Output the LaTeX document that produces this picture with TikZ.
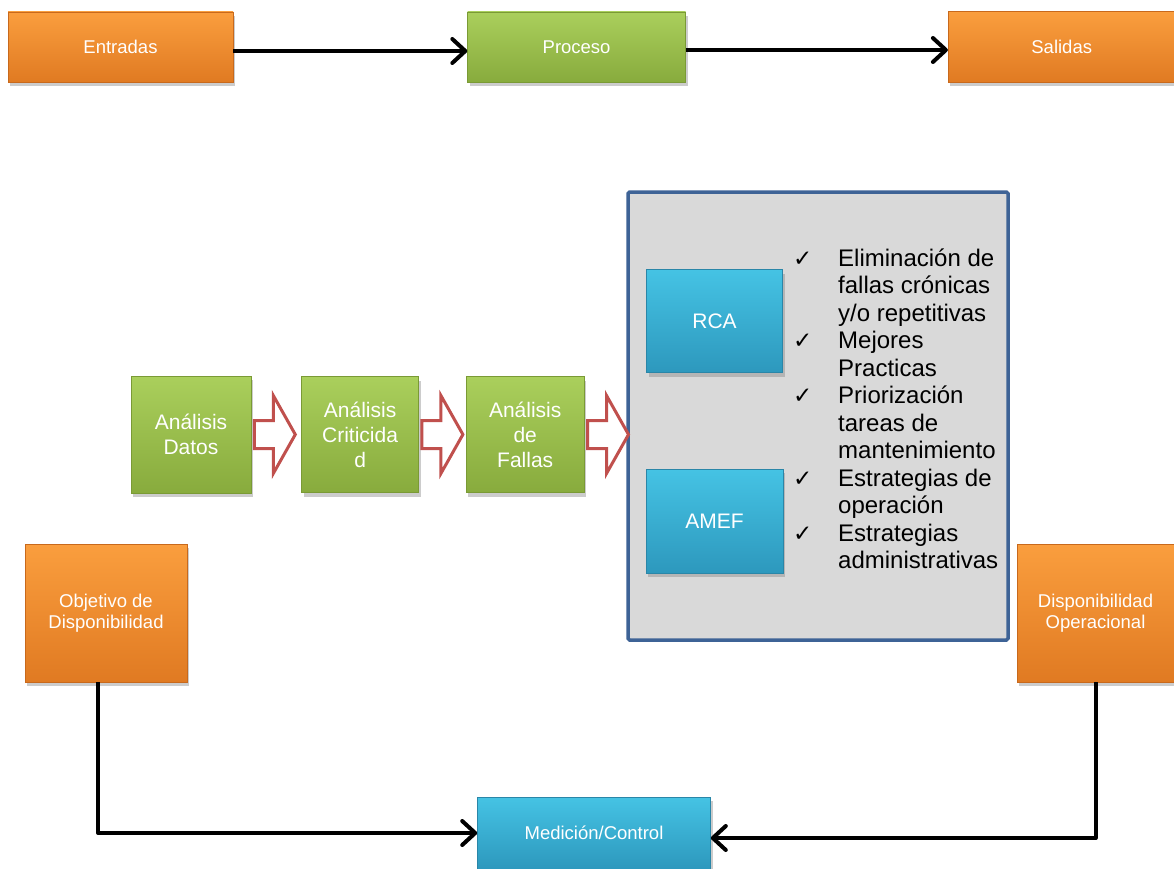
\documentclass[tikz,border=0pt]{standalone}
\usepackage{fontspec}
\setmainfont{Liberation Sans}
\newfontfamily\symfont{DejaVu Sans}
\usetikzlibrary{arrows.meta,positioning,calc,shadows}

\definecolor{orangetop}{HTML}{FA9E3E}
\definecolor{orangebot}{HTML}{E07A22}
\definecolor{orangeedge}{HTML}{C8691C}
\definecolor{greentop}{HTML}{AACF5C}
\definecolor{greenbot}{HTML}{88AB3D}
\definecolor{greenedge}{HTML}{7A9A35}
\definecolor{bluetop}{HTML}{45C3E4}
\definecolor{bluebot}{HTML}{2D98BD}
\definecolor{blueedge}{HTML}{2A86A8}
\definecolor{panelfill}{HTML}{D9D9D9}
\definecolor{paneledge}{HTML}{3E6396}
\definecolor{arrowred}{HTML}{C0504D}

\newcommand{\chk}{{\symfont\fontsize{23}{23}\selectfont ✓}}

\begin{document}
\begin{tikzpicture}[
  x=1pt, y=-1pt,
  line/.style={draw=black, line width=4pt, line join=round,
    -{Straight Barb[length=13pt,width=24pt,line cap=round,line join=round]}},
  hollow/.style={draw=arrowred, fill=white, line width=3pt, line join=miter},
  box/.style={rectangle, text=white, align=center, inner sep=2pt, line width=0.6pt,
    drop shadow={opacity=0.4, shadow xshift=2pt, shadow yshift=-4pt}},
  obox/.style={box, top color=orangetop, bottom color=orangebot, draw=orangeedge,
    font=\fontsize{18.5}{21.5}\selectfont},
  gbox/.style={box, top color=greentop, bottom color=greenbot, draw=greenedge,
    font=\fontsize{21}{25}\selectfont},
  bbox/.style={box, top color=bluetop, bottom color=bluebot, draw=blueedge,
    font=\fontsize{18.5}{21.5}\selectfont},
  panel/.style={rectangle, fill=panelfill, draw=paneledge, line width=3.5pt, rounded corners=1.5pt},
  checks/.style={anchor=base west, inner sep=0pt, align=left, font=\fontsize{24}{27.5}\selectfont}
]
\useasboundingbox (0,0) rectangle (1174,869);

% top row
\node[obox, minimum width=225pt, minimum height=70pt] (ent) at (120.5,47) {Entradas};
\node[gbox, font=\fontsize{18.5}{21.5}\selectfont, minimum width=218pt, minimum height=70pt,
  right=234pt of ent] (proc) {Proceso};
\node[obox, minimum width=227pt, minimum height=71pt, right=262pt of proc] (sal) {Salidas};

% analysis chain
\node[gbox, minimum width=120pt, minimum height=117pt] (datos) at (191,434.5) {Análisis\\Datos};
\node[gbox, minimum width=117pt, minimum height=116pt, right=50pt of datos] (crit) {Análisis\\Criticida\\d};
\node[gbox, minimum width=118pt, minimum height=116pt, right=47pt of crit] (fallas) {Análisis\\de\\Fallas};

\node[panel, minimum width=380pt, minimum height=448pt] (panel) at (818,416) {};
\node[bbox, font=\fontsize{21}{25}\selectfont, minimum width=136pt, minimum height=103pt] (rca) at (714.5,321) {RCA};
\node[bbox, font=\fontsize{21}{25}\selectfont, minimum width=137pt, minimum height=104pt,
  below=96pt of rca] (amef) {AMEF};

\node[checks] (lista) at (793,266) {%
\begin{tabular}[t]{@{}p{45pt}@{}l@{}}
\chk & Eliminación de\\
     & fallas crónicas\\
     & y/o repetitivas\\
\chk & Mejores\\
     & Practicas\\
\chk & Priorización\\
     & tareas de\\
     & mantenimiento\\
\chk & Estrategias de\\
     & operación\\
\chk & Estrategias\\
     & administrativas
\end{tabular}};

% loop
\node[obox, minimum width=162pt, minimum height=138pt] (obj) at (106,613) {Objetivo de\\Disponibilidad};
\node[obox, minimum width=157pt, minimum height=138pt] (disp) at (1095.5,613) {Disponibilidad\\Operacional};
\node[bbox, minimum width=233pt, minimum height=72pt] (med) at (594,833) {Medición/Control};

\draw[line] ([yshift=-4pt]ent.east) -- ([yshift=-4pt]proc.west);
\draw[line] ([yshift=-3pt]proc.east) -- ([yshift=-3pt]proc.east -| sal.west);
\draw[line] ([xshift=-8pt]obj.south) |- (med.west);
\draw[line] (disp.south) |- ([yshift=-5pt]med.east);

\foreach \a/\b in {datos/crit, crit/fallas, fallas/panel}
  \draw[hollow] ($(\a.east)+(3,-14)$) -- ++(19,0) -- ++(0,-25) -- ++(22,39)
    -- ++(-22,39) -- ++(0,-25) -- ++(-19,0) -- cycle;
\end{tikzpicture}
\end{document}
